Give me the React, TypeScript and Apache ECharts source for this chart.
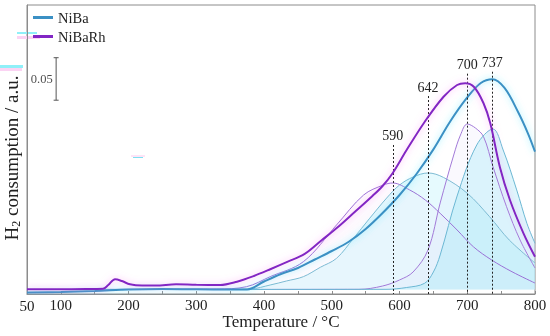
import React, { useEffect, useRef } from 'react';
import * as echarts from 'echarts';

// ---- Data (temperature in °C, H2 consumption in a.u.) ----
const nibaTemps = [50, 100, 150, 200, 250, 300, 350, 375, 400, 425, 450, 475, 500, 525, 550, 575, 600, 625, 650, 675, 700, 720, 737, 755, 775, 790, 800];
const nibaValues = [0.0018, 0.0024, 0.0035, 0.0053, 0.0059, 0.0055, 0.0053, 0.0053, 0.0147, 0.0235, 0.0306, 0.0406, 0.0506, 0.0615, 0.0765, 0.0953, 0.1165, 0.1412, 0.1701, 0.2032, 0.2312, 0.2482, 0.2526, 0.2424, 0.2141, 0.1882, 0.1674];

const nibaRhTemps = [50, 100, 150, 162, 170, 180, 190, 202, 220, 240, 270, 300, 335, 360, 385, 410, 435, 460, 485, 510, 535, 560, 575, 590, 610, 637, 665, 685, 697, 710, 724, 734, 748, 763, 783, 800];
const nibaRhValues = [0.0055, 0.0055, 0.0059, 0.0061, 0.0106, 0.0173, 0.0153, 0.0114, 0.01, 0.01, 0.0114, 0.0108, 0.0106, 0.0145, 0.0212, 0.0294, 0.038, 0.0471, 0.0632, 0.0794, 0.0973, 0.1153, 0.1271, 0.1424, 0.1688, 0.2024, 0.2321, 0.2459, 0.2479, 0.2435, 0.2244, 0.2008, 0.1498, 0.1106, 0.0714, 0.0439];

// deconvoluted components
const niba642Temps = [50, 350, 380, 409, 433, 458, 483, 507, 532, 556, 581, 600, 620, 642, 665, 700, 733, 762, 800];
const niba642Values = [0.0053, 0.0055, 0.0059, 0.0106, 0.0153, 0.0204, 0.0314, 0.042, 0.0655, 0.0891, 0.1129, 0.1282, 0.1376, 0.1424, 0.1371, 0.1185, 0.0909, 0.0635, 0.0365];

const niba737Temps = [50, 580, 610, 637, 650, 660, 685, 714, 738, 753, 773, 788, 800];
const niba737Values = [0.0053, 0.0055, 0.0076, 0.0126, 0.0259, 0.0459, 0.1153, 0.1753, 0.1941, 0.1694, 0.1224, 0.0832, 0.0596];

const rh590Temps = [50, 330, 374, 409, 458, 507, 547, 576, 590, 615, 638, 660, 685, 709, 736, 766, 800];
const rh590Values = [0.0053, 0.0059, 0.0086, 0.0204, 0.038, 0.0812, 0.1165, 0.1282, 0.1306, 0.1224, 0.1106, 0.0949, 0.0753, 0.0556, 0.04, 0.0262, 0.0129];

const rh700Temps = [50, 540, 575, 600, 620, 642, 660, 680, 690, 700, 712, 724, 738, 758, 778, 800];
const rh700Values = [0.0053, 0.0055, 0.0094, 0.0165, 0.0259, 0.0518, 0.1071, 0.1635, 0.1871, 0.2, 0.1953, 0.1851, 0.1498, 0.1027, 0.0635, 0.0306];

const componentBaseline = 0.0053;

const peakTemps = [590, 642, 700, 737];
const peakLineTops = [0.1753, 0.2329, 0.2592, 0.2615];

const scaleBarTemp = 93;
const scaleBarStart = 0.228;
const scaleBarLength = 0.05;

const xMin = 50;
const xMax = 800;
const yMax = 0.34;

const pairs = (t: number[], v: number[]) => t.map((x, i) => [x, v[i]]);

export default function App() {
  const ref = useRef<HTMLDivElement>(null);
  useEffect(() => {
    const chart = echarts.init(ref.current!, null, { renderer: 'svg' });
    const FONT = '"Liberation Serif", "Times New Roman", serif';
    const TXT = '#222';

    const comp = (name: string, t: number[], v: number[], color: string, fill: string) => ({
      name,
      type: 'line',
      data: pairs(t, v),
      smooth: 0.35,
      symbol: 'none',
      showSymbol: false,
      silent: true,
      z: 2,
      lineStyle: { color, width: 1 },
      itemStyle: { color },
      areaStyle: { color: fill, origin: componentBaseline },
    });

    chart.setOption({
      animation: false,
      grid: {
        left: 27,
        right: 15,
        top: 5,
        bottom: 42,
        show: true,
        borderColor: '#8c8c8c',
        borderWidth: 1,
        containLabel: false,
        outerBoundsMode: 'none',
      },
      legend: {
        data: ['NiBa', 'NiBaRh'],
        orient: 'vertical',
        left: 33,
        top: 10,
        padding: 0,
        icon: 'rect',
        itemWidth: 20,
        itemHeight: 3,
        itemGap: 4,
        textStyle: { fontFamily: FONT, fontSize: 14.5, color: TXT },
      },
      xAxis: {
        type: 'value',
        min: xMin,
        max: xMax,
        interval: 50,
        name: 'Temperature / °C',
        nameLocation: 'middle',
        nameGap: 19,
        nameMoveOverlap: false,
        nameTextStyle: { fontFamily: FONT, fontSize: 17, lineHeight: 17, color: TXT },
        axisLine: { lineStyle: { color: '#8c8c8c' } },
        axisTick: { inside: true, length: 3, lineStyle: { color: '#8c8c8c' } },
        splitLine: { show: false },
        axisLabel: {
          margin: 4,
          showMinLabel: true,
          showMaxLabel: true,
          fontFamily: FONT,
          fontSize: 15,
          lineHeight: 14,
          color: TXT,
          formatter: (v: number) => (v === 50 ? '{low|50}' : v % 100 === 0 ? String(v) : ''),
          rich: { low: { padding: [2, 0, 0, 0], fontFamily: FONT, fontSize: 15, lineHeight: 14, color: TXT } },
        },
      },
      yAxis: {
        type: 'value',
        min: 0,
        max: yMax,
        axisLine: { show: true, lineStyle: { color: '#8c8c8c' } },
        axisTick: { show: false },
        axisLabel: { show: false },
        splitLine: { show: false },
      },
      graphic: [
        {
          type: 'text',
          x: 11,
          y: 158,
          rotation: Math.PI / 2,
          style: {
            text: '{h|H}{s|2}{h| consumption / a.u.}',
            align: 'center',
            verticalAlign: 'middle',
            rich: {
              h: { fontFamily: FONT, fontSize: 19, fill: TXT },
              s: { fontFamily: FONT, fontSize: 12, fill: TXT, padding: [9, 0, 0, 0] },
            },
          },
        },
        { type: 'rect', shape: { x: 17, y: 32, width: 20, height: 2 }, style: { fill: '#8ff0f8' } },
        { type: 'rect', shape: { x: 17, y: 36, width: 23, height: 3 }, style: { fill: '#fbd3f3' } },
        { type: 'rect', shape: { x: 0, y: 65, width: 23, height: 3 }, style: { fill: '#8ff0f8' } },
        { type: 'rect', shape: { x: 0, y: 68, width: 22, height: 3 }, style: { fill: '#fbd3f3' } },
        { type: 'rect', shape: { x: 131, y: 155, width: 14, height: 2 }, style: { fill: '#fde4f7' } },
        { type: 'rect', shape: { x: 133, y: 157, width: 10, height: 1 }, style: { fill: '#7fe0f2' } },
      ],
      series: [
        comp('NiBa 642', niba642Temps, niba642Values, '#7dbbd3', 'rgba(205,244,252,0.7)'),
        comp('NiBaRh 590', rh590Temps, rh590Values, '#9a72d6', 'rgba(240,215,248,0.18)'),
        comp('NiBaRh 700', rh700Temps, rh700Values, '#a27ad8', 'rgba(220,212,246,0.2)'),
        comp('NiBa 737', niba737Temps, niba737Values, '#6cb8d4', 'rgba(150,228,246,0.45)'),
        {
          name: 'NiBa',
          type: 'line',
          data: pairs(nibaTemps, nibaValues),
          smooth: 0.35,
          symbol: 'none',
          showSymbol: false,
          z: 4,
          lineStyle: { color: '#3b90c4', width: 2, shadowColor: 'rgba(60,225,255,0.55)', shadowBlur: 6 },
          itemStyle: { color: '#3b90c4' },
        },
        {
          name: 'NiBaRh',
          type: 'line',
          data: pairs(nibaRhTemps, nibaRhValues),
          smooth: 0.35,
          symbol: 'none',
          showSymbol: false,
          z: 5,
          lineStyle: { color: '#8226c4', width: 2, shadowColor: 'rgba(255,120,240,0.55)', shadowBlur: 7 },
          itemStyle: { color: '#8226c4' },
          markLine: {
            silent: true,
            symbol: ['none', 'none'],
            lineStyle: { type: [2, 2], color: '#222', width: 1 },
            label: {
              show: true,
              position: 'start',
              distance: 2,
              formatter: '{b}',
              fontFamily: FONT,
              fontSize: 14,
              color: TXT,
            },
            data: peakTemps.map((p, i) => [
              { name: String(p), coord: [p, peakLineTops[i]] },
              { coord: [p, 0] },
            ]),
          },
        },
        {
          name: 'scale',
          type: 'line',
          data: [
            [scaleBarTemp, scaleBarStart],
            [scaleBarTemp, scaleBarStart + scaleBarLength],
          ],
          symbol: 'rect',
          symbolSize: [5, 1],
          showSymbol: true,
          silent: true,
          lineStyle: { color: '#555', width: 1 },
          itemStyle: { color: '#555' },
          z: 6,
        },
        {
          name: 'scaleLabel',
          type: 'scatter',
          data: [[scaleBarTemp, scaleBarStart + scaleBarLength / 2]],
          symbolSize: 1,
          silent: true,
          itemStyle: { color: 'rgba(0,0,0,0)' },
          label: {
            show: true,
            position: 'left',
            distance: 3,
            formatter: String(scaleBarLength),
            fontFamily: FONT,
            fontSize: 12.5,
            color: TXT,
          },
        },
      ],
    });
    return () => chart.dispose();
  }, []);
  return <div ref={ref} style={{ position: 'fixed', left: 0, top: 0, width: 550, height: 336 }} />;
}
